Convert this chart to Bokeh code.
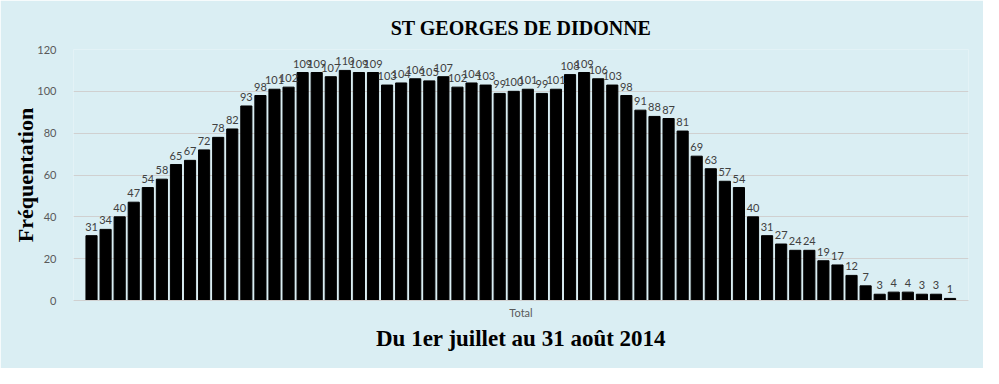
from bokeh.plotting import figure
from bokeh.models import Range1d, FixedTicker, Title, ColumnDataSource
from bokeh.embed import file_html
from bokeh.resources import INLINE

# Daily attendance, 1 July - 31 August 2014
values = [31, 34, 40, 47, 54, 58, 65, 67, 72, 78,
          82, 93, 98, 101, 102, 109, 109, 107, 110, 109,
          109, 103, 104, 106, 105, 107, 102, 104, 103, 99,
          100, 101, 99, 101, 108, 109, 106, 103, 98, 91,
          88, 87, 81, 69, 63, 57, 54, 40, 31, 27,
          24, 24, 19, 17, 12, 7, 3, 4, 4, 3,
          3, 1]
y_ticks = [0, 20, 40, 60, 80, 100, 120]
title_text = "ST GEORGES DE DIDONNE"
subtitle_text = "Du 1er juillet au 31 août 2014"
y_label = "Fréquentation"
x_label = "Total"

BG = "#DAEEF3"
x = list(range(len(values)))
src = ColumnDataSource(dict(x=x, v=values, t=[str(v) for v in values]))

p = figure(width=983, height=368, output_backend="svg", toolbar_location=None,
           x_range=Range1d(-1.28, len(values) + 0.31), y_range=Range1d(0, 120),
           min_border_left=73, min_border_right=15, min_border_top=49, min_border_bottom=68)
p.background_fill_color = BG
p.border_fill_color = BG
p.outline_line_color = None

p.vbar(x="x", top="v", width=0.79, source=src, color="black")
p.text(x="x", y="v", text="t", source=src, text_align="center", text_baseline="alphabetic",
       y_offset=-9, text_font_size="11px", text_color="#404040",
       text_font={"value": "Lato"})

# title
p.title.text = title_text
p.title.align = "center"
p.title.offset = -29
p.title.standoff = 22
p.title.text_font = "Liberation Serif"
p.title.text_font_style = "bold"
p.title.text_font_size = "20px"
p.title.text_color = "black"

# y axis
p.yaxis.ticker = FixedTicker(ticks=y_ticks)
p.yaxis.axis_line_color = None
p.yaxis.major_tick_line_color = None
p.yaxis.minor_tick_line_color = None
p.yaxis.major_label_standoff = 11
p.yaxis.major_label_text_font = "Lato"
p.yaxis.major_label_text_font_size = "11px"
p.yaxis.major_label_text_color = "#595959"
p.yaxis.axis_label = y_label
p.yaxis.axis_label_text_font = "Liberation Serif"
p.yaxis.axis_label_text_font_style = "bold"
p.yaxis.axis_label_text_font_size = "22px"
p.yaxis.axis_label_text_color = "black"
p.yaxis.axis_label_standoff = -4

# x axis
p.xaxis.ticker = FixedTicker(ticks=[])
p.xaxis.axis_line_color = "#D0D0D0"
p.xaxis.major_tick_line_color = None
p.xaxis.minor_tick_line_color = None
p.xaxis.major_label_standoff = 0
p.xaxis.axis_label = x_label
p.xaxis.axis_label_text_font = "Lato"
p.xaxis.axis_label_text_font_style = "normal"
p.xaxis.axis_label_text_font_size = "11px"
p.xaxis.axis_label_text_color = "#595959"
p.xaxis.axis_label_standoff = 5

p.xgrid.grid_line_color = None
p.ygrid.grid_line_color = "#D0D0D0"

sub = Title(text=subtitle_text, align="center", text_font="Liberation Serif",
            text_font_style="bold", text_font_size="23px", text_color="black", standoff=5)
p.add_layout(sub, "below")

open("out.html", "w").write(file_html(p, INLINE))
